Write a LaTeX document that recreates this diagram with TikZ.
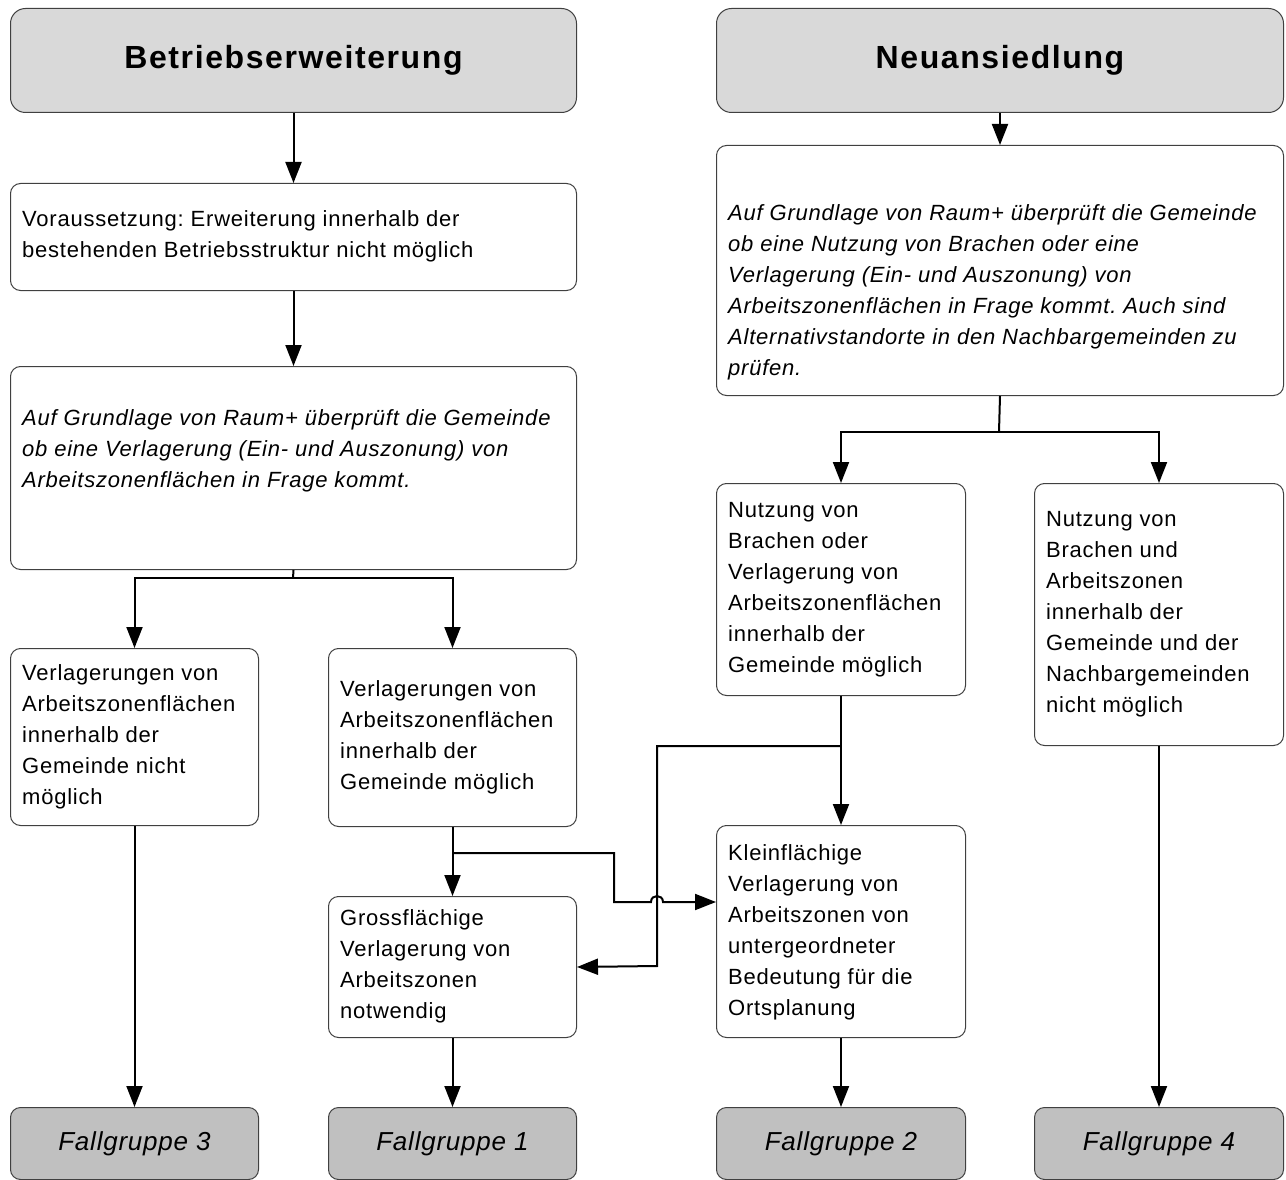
\documentclass[tikz,border=0pt]{standalone}
\usepackage{fontspec}
\setmainfont{Liberation Sans}
\newfontfamily\bodyfont[LetterSpace=3.5]{Liberation Sans}
\newfontfamily\headfont[LetterSpace=5]{Liberation Sans}
\newfontfamily\fallfont[LetterSpace=3]{Liberation Sans}
\usetikzlibrary{arrows.meta}
\frenchspacing
\definecolor{headfill}{HTML}{D9D9D9}
\definecolor{fallfill}{HTML}{C0C0C0}
\tikzset{
  box/.style={draw=black!75, line width=1pt, rounded corners=10pt, fill=white, inner sep=0pt, anchor=north west},
  headbox/.style={box, fill=headfill, rounded corners=15pt, font=\headfont\fontsize{32}{38}\selectfont\bfseries, align=center},
  fallbox/.style={box, fill=fallfill, font=\fallfont\fontsize{26}{30}\selectfont\itshape, align=center},
  txt/.style={inner sep=0pt, anchor=west, align=left, font=\bodyfont\fontsize{22}{31}\selectfont\frenchspacing},
  itxt/.style={txt, font=\bodyfont\fontsize{22}{31}\selectfont\itshape\frenchspacing},
  conn/.style={line width=2pt, black},
  arr/.style={conn, -{Triangle[length=21pt,width=16pt]}},
}
\begin{document}
\begin{tikzpicture}[x=1pt,y=-1pt]
\useasboundingbox (0,0) rectangle (1286,1180);
% headers
\node[headbox, minimum width=566pt, minimum height=104pt] (h1) at (10,8) {Betriebserweiterung};
\node[headbox, minimum width=567pt, minimum height=104pt] (h2) at (716,8) {Neuansiedlung};
% left column
\node[box, minimum width=566pt, minimum height=107pt] (b1) at (10,183) {};
\node[txt] (tb1) at (22,236) {Voraussetzung: Erweiterung innerhalb der\\bestehenden Betriebsstruktur nicht möglich};
\node[box, minimum width=566pt, minimum height=203pt] (b2) at (10,366) {};
\node[itxt] (tb2) at (22,451) {Auf Grundlage von Raum+ überprüft die Gemeinde\\ob eine Verlagerung (Ein- und Auszonung) von\\Arbeitszonenflächen in Frage kommt.};
\node[box, minimum width=248pt, minimum height=177pt] (l1) at (10,648) {};
\node[txt] (tl1) at (22,737) {Verlagerungen von\\Arbeitszonenflächen\\innerhalb der\\Gemeinde nicht\\möglich};
\node[box, minimum width=248pt, minimum height=178pt] (l2) at (328,648) {};
\node[txt] (tl2) at (340,737) {Verlagerungen von\\Arbeitszonenflächen\\innerhalb der\\Gemeinde möglich};
\node[box, minimum width=248pt, minimum height=141pt] (g) at (328,896) {};
\node[txt] (tg) at (340,966) {Grossflächige\\Verlagerung von\\Arbeitszonen\\notwendig};
% right column
\node[box, minimum width=567pt, minimum height=250pt] (r1) at (716,145) {};
\node[itxt] (tr1) at (728,292) {Auf Grundlage von Raum+ überprüft die Gemeinde\\ob eine Nutzung von Brachen oder eine\\Verlagerung (Ein- und Auszonung) von\\Arbeitszonenflächen in Frage kommt. Auch sind\\Alternativstandorte in den Nachbargemeinden zu\\prüfen.};
\node[box, minimum width=249pt, minimum height=212pt] (m1) at (716,483) {};
\node[txt] (tm1) at (728,590) {Nutzung von\\Brachen oder\\Verlagerung von\\Arbeitszonenflächen\\innerhalb der\\Gemeinde möglich};
\node[box, minimum width=249pt, minimum height=262pt] (n1) at (1034,483) {};
\node[txt] (tn1) at (1046,614) {Nutzung von\\Brachen und\\Arbeitszonen\\innerhalb der\\Gemeinde und der\\Nachbargemeinden\\nicht möglich};
\node[box, minimum width=249pt, minimum height=212pt] (k) at (716,825) {};
\node[txt] (tk) at (728,932) {Kleinflächige\\Verlagerung von\\Arbeitszonen von\\untergeordneter\\Bedeutung für die\\Ortsplanung};
% Fallgruppen
\node[fallbox, minimum width=248pt, minimum height=72pt] (f3) at (10,1107) {Fallgruppe 3};
\node[fallbox, minimum width=248pt, minimum height=72pt] (f1) at (328,1107) {Fallgruppe 1};
\node[fallbox, minimum width=249pt, minimum height=72pt] (f2) at (716,1107) {Fallgruppe 2};
\node[fallbox, minimum width=249pt, minimum height=72pt] (f4) at (1034,1107) {Fallgruppe 4};
% coordinates
\coordinate (j1) at (293,578);
\coordinate (j2) at (999,432);
\coordinate (s1) at (453,853);
\coordinate (s2) at (840,746);
\coordinate (kin) at (716,902);
% connectors
\draw[arr] (h1.south) -- (b1.north);
\draw[arr] (b1.south) -- (b2.north);
\draw[conn] (b2.south) -- (j1);
\draw[arr] (j1) -| (l1.north);
\draw[arr] (j1) -| (l2.north);
\draw[arr] (h2.south) -- (r1.north);
\draw[conn] (r1.south) -- (j2);
\draw[arr] (j2) -| (m1.north);
\draw[arr] (j2) -| (n1.north);
\draw[arr] (l1.south) -- (f3.north);
\draw[arr] (l2.south) -- (g.north);
\draw[arr] (g.south) -- (f1.north);
\draw[arr] (m1.south) -- (k.north);
\draw[arr] (k.south) -- (f2.north);
\draw[arr] (n1.south) -- (f4.north);
\draw[arr] (s1) -- (614,853) -- (614,902) -- (651,902) .. controls (651,894) and (663,894) .. (663,902) -- (kin);
\draw[arr] (s2) -- (657,746) -- (657,966) -- (g.east);
\end{tikzpicture}
\end{document}
